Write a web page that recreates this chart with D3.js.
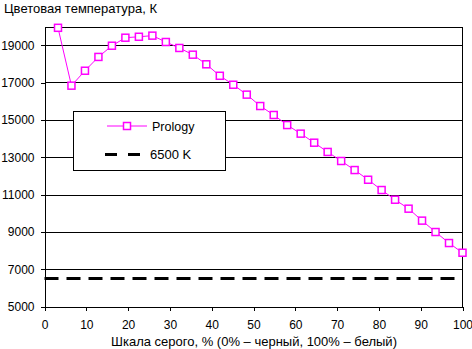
<!DOCTYPE html>
<html><head><meta charset="utf-8">
<script src="https://cdn.jsdelivr.net/npm/d3@7"></script>
<style>
body{margin:0;background:#fff;}
text{font-family:"Liberation Sans",Arial,sans-serif;font-size:13px;fill:#000;}
</style></head>
<body><svg id="c" width="472" height="349"></svg>
<script>
const grayLevels = [3.23,6.45,9.68,12.9,16.13,19.35,22.58,25.81,29.03,32.26,35.48,38.71,41.94,45.16,48.39,51.61,54.84,58.06,61.29,64.52,67.74,70.97,74.19,77.42,80.65,83.87,87.1,90.32,93.55,96.77,100];
const prology = [19930,16830,17630,18370,18970,19400,19450,19510,19170,18850,18490,17975,17360,16880,16350,15740,15260,14720,14260,13775,13280,12795,12310,11790,11240,10720,10240,9600,8990,8400,7880];
const refLevel = 6500;
const yTicks = [5000,7000,9000,11000,13000,15000,17000,19000];
const xTicks = [0,10,20,30,40,50,60,70,80,90,100];
const seriesNames = ["Prology","6500 K"];
const yTitle = "Цветовая температура, К";
const xTitle = "Шкала серого, % (0% – черный, 100% – белый)";

const svg = d3.select("#c");
const L=44.5, R=462.5, T=26.5, B=306.5;
const x = d3.scaleLinear().domain([0,100]).range([L,R]);
const y = d3.scaleLinear().domain([5000,20000]).range([B,T]);
const magenta="#FF00FF";

// gridlines
svg.append("g").selectAll("line").data(yTicks.slice(1).concat([20000])).join("line")
  .attr("x1",L).attr("x2",R).attr("y1",d=>Math.round(y(d))+0.5).attr("y2",d=>Math.round(y(d))+0.5)
  .attr("stroke","#000").attr("stroke-width",1).attr("shape-rendering","crispEdges");
// right border
svg.append("line").attr("x1",R).attr("x2",R).attr("y1",T).attr("y2",B)
  .attr("stroke","#000").attr("shape-rendering","crispEdges");

// axes
const yAxis = d3.axisLeft(y).tickValues(yTicks).tickSize(4).tickPadding(6).tickFormat(d3.format("d"));
const gy = svg.append("g").attr("transform",`translate(${L},0)`).call(yAxis);
const xAxis = d3.axisBottom(x).tickValues(xTicks).tickSize(4).tickPadding(10).tickFormat(d3.format("d"));
const gx = svg.append("g").attr("transform",`translate(0,${B})`).call(xAxis);
[gy,gx].forEach(g=>{
  g.selectAll("path,line").attr("stroke","#000").attr("shape-rendering","crispEdges");
  g.selectAll("path").attr("d", g===gy ? `M0.5,${T}V${B}` : `M${L},0.5H${R}`);
  g.selectAll("text").style("font-family",'"Liberation Sans",Arial,sans-serif').style("font-size","12px").attr("fill","#000");
});
gx.selectAll(".tick line").attr("y1",0);

// reference dashed line
svg.append("line").attr("x1",L).attr("x2",R).attr("y1",y(refLevel)).attr("y2",y(refLevel))
  .attr("stroke","#000").attr("stroke-width",3).attr("stroke-dasharray","14,8");

// series
const pts = grayLevels.map((g,i)=>[g,prology[i]]);
svg.append("path").datum(pts).attr("fill","none").attr("stroke",magenta).attr("stroke-width",1)
  .attr("d",d3.line().x(d=>x(d[0])).y(d=>y(d[1])));
svg.append("g").selectAll("rect").data(pts).join("rect")
  .attr("x",d=>x(d[0])-3.5).attr("y",d=>y(d[1])-3.5).attr("width",7).attr("height",7)
  .attr("fill","#fff").attr("stroke",magenta).attr("stroke-width",1.5);

// legend
const lg = svg.append("g");
lg.append("rect").attr("x",73.5).attr("y",111.5).attr("width",152).attr("height",59)
  .attr("fill","#fff").attr("stroke","#000").attr("shape-rendering","crispEdges");
lg.append("line").attr("x1",107).attr("x2",147).attr("y1",126).attr("y2",126).attr("stroke",magenta);
lg.append("rect").attr("x",123.5).attr("y",122.5).attr("width",7).attr("height",7)
  .attr("fill","#fff").attr("stroke",magenta).attr("stroke-width",1.5);
lg.append("text").attr("x",152).attr("y",131).style("font-size","12.5px").text(seriesNames[0]);
lg.append("line").attr("x1",105).attr("x2",141).attr("y1",154.5).attr("y2",154.5)
  .attr("stroke","#000").attr("stroke-width",3).attr("stroke-dasharray","12,11");
lg.append("text").attr("x",150).attr("y",159).text(seriesNames[1]);

// titles
svg.append("text").attr("x",4).attr("y",13).text(yTitle);
svg.append("text").attr("x",254).attr("y",346).attr("text-anchor","middle").text(xTitle);
</script></body></html>
